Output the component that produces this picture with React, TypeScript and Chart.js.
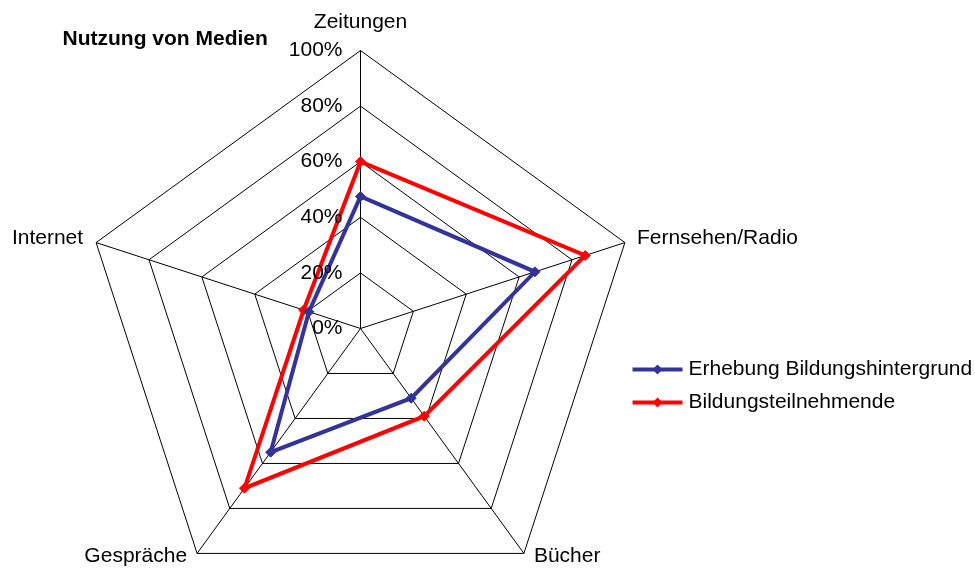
import React, { useEffect, useRef } from "react";
import { Chart, registerables } from "chart.js";

Chart.register(...registerables);

const categories = ["Zeitungen", "Fernsehen/Radio", "Bücher", "Gespräche", "Internet"];
const erhebungValues = [47.5, 66, 31, 55, 19.5];
const teilnehmendeValues = [60, 85, 39, 71, 21.5];
const seriesNames = ["Erhebung Bildungshintergrund", "Bildungsteilnehmende"];
const seriesColors = ["#333399", "#FF0000"];
const tickMin = 0;
const tickMax = 100;
const tickStep = 20;
const titleText = "Nutzung von Medien";

const FONT = "'Liberation Sans', Arial, sans-serif";

// label offsets relative to outer vertex: [dx, dy, align]
const labelPlacement: [number, number, CanvasTextAlign][] = [
  [0, -28, "center"],
  [12, -4, "left"],
  [10, 3, "left"],
  [-10, 3, "right"],
  [-13, -4, "right"],
];

const overlayPlugin = {
  id: "overlay",
  afterDatasetsDraw(chart: any) {
    const ctx: CanvasRenderingContext2D = chart.ctx;
    const r = chart.scales.r;
    ctx.save();
    ctx.fillStyle = "#000";
    ctx.font = `21px ${FONT}`;
    ctx.textAlign = "right";
    ctx.textBaseline = "middle";
    r.ticks.forEach((t: any) => {
      const d = r.getDistanceFromCenterForValue(t.value);
      ctx.fillText(String(t.label), r.xCenter - 18, r.yCenter - d);
    });
    ctx.restore();
  },
  afterDraw(chart: any) {
    const ctx: CanvasRenderingContext2D = chart.ctx;
    const r = chart.scales.r;
    ctx.save();
    ctx.fillStyle = "#000";
    ctx.font = `21px ${FONT}`;
    ctx.textBaseline = "middle";
    chart.data.labels.forEach((lbl: string, i: number) => {
      const p = r.getPointPosition(i, r.drawingArea);
      const [dx, dy, align] = labelPlacement[i];
      ctx.textAlign = align;
      ctx.fillText(lbl, p.x + dx, p.y + dy);
    });

    // title
    ctx.font = `bold 21px ${FONT}`;
    ctx.textAlign = "left";
    ctx.fillText(titleText, 62, 39);

    // legend
    ctx.font = `21px ${FONT}`;
    chart.data.datasets.forEach((ds: any, i: number) => {
      const y = 369 + i * 33;
      ctx.strokeStyle = ds.borderColor;
      ctx.lineWidth = 4;
      ctx.beginPath();
      ctx.moveTo(632, y);
      ctx.lineTo(682, y);
      ctx.stroke();
      ctx.fillStyle = ds.borderColor;
      ctx.beginPath();
      ctx.moveTo(657, y - 5);
      ctx.lineTo(662, y);
      ctx.lineTo(657, y + 5);
      ctx.lineTo(652, y);
      ctx.closePath();
      ctx.fill();
      ctx.fillStyle = "#000";
      ctx.textAlign = "left";
      ctx.fillText(ds.label, 688, y);
    });
    ctx.restore();
  },
};

// shift half a pixel so 1px grid lines render crisp
const crispPlugin = {
  id: "crisp",
  beforeDraw(chart: any) {
    chart.ctx.save();
    chart.ctx.translate(0.5, 0.5);
  },
  afterDraw(chart: any) {
    chart.ctx.restore();
  },
};

export default function App() {
  const canvasRef = useRef<HTMLCanvasElement | null>(null);

  useEffect(() => {
    if (!canvasRef.current) return;
    const makeDataset = (label: string, data: number[], color: string) => ({
      label,
      data,
      borderColor: color,
      backgroundColor: color,
      borderWidth: 4,
      fill: false,
      pointStyle: "rectRot",
      pointRadius: 5,
      pointBorderWidth: 1,
      pointBackgroundColor: color,
      pointBorderColor: color,
    });
    const chart = new Chart(canvasRef.current, {
      type: "radar",
      data: {
        labels: categories,
        datasets: [
          makeDataset(seriesNames[0], erhebungValues, seriesColors[0]),
          makeDataset(seriesNames[1], teilnehmendeValues, seriesColors[1]),
        ],
      },
      options: {
        responsive: false,
        animation: false,
        devicePixelRatio: 1,
        layout: { padding: { left: 82, right: 337, top: 50, bottom: 14 } },
        plugins: {
          legend: { display: false },
          title: { display: false },
          tooltip: { enabled: false },
        },
        scales: {
          r: {
            min: tickMin,
            max: tickMax,
            ticks: {
              stepSize: tickStep,
              display: false,
              callback: (v: any) => `${v}%`,
            },
            pointLabels: { display: false },
            grid: { color: "#000", lineWidth: 1, circular: false },
            angleLines: { color: "#000", lineWidth: 1 },
          },
        },
      },
      plugins: [overlayPlugin, crispPlugin],
    } as any);
    return () => chart.destroy();
  }, []);

  return (
    <div
      style={{
        position: "fixed",
        left: 0,
        top: 0,
        width: 975,
        height: 569,
        overflow: "hidden",
        background: "#fff",
      }}
    >
      <canvas ref={canvasRef} width={975} height={620} style={{ display: "block" }} />
    </div>
  );
}
